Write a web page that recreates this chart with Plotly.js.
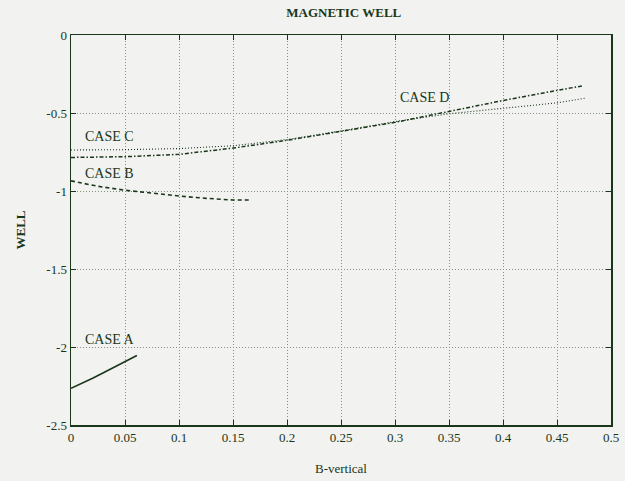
<!DOCTYPE html>
<html><head><meta charset="utf-8">
<script src="https://cdn.plot.ly/plotly-3.0.1.min.js"></script>
<style>html,body{margin:0;padding:0;background:#f2f2f0;}</style>
</head><body>
<div id="chart" style="width:625px;height:481px;"></div>
<script>
const caseA_x = [0, 0.01, 0.02, 0.03, 0.04, 0.05, 0.061];
const caseA_y = [-2.265, -2.235, -2.2, -2.165, -2.13, -2.095, -2.055];
const caseB_x = [0, 0.025, 0.05, 0.075, 0.1, 0.125, 0.15, 0.167];
const caseB_y = [-0.935, -0.97, -0.995, -1.015, -1.032, -1.047, -1.058, -1.058];
const caseC_x = [0, 0.05, 0.1, 0.15, 0.2, 0.25, 0.3, 0.35, 0.4, 0.45, 0.477];
const caseC_y = [-0.737, -0.735, -0.728, -0.71, -0.67, -0.615, -0.555, -0.505, -0.47, -0.435, -0.404];
const caseD_x = [0, 0.05, 0.1, 0.15, 0.2, 0.25, 0.3, 0.35, 0.4, 0.45, 0.473];
const caseD_y = [-0.785, -0.78, -0.765, -0.725, -0.675, -0.618, -0.56, -0.49, -0.42, -0.355, -0.327];
const labels = ["CASE A", "CASE B", "CASE C", "CASE D"];
const labelX = [0.036, 0.036, 0.036, 0.327];
const labelY = [-1.95, -0.885, -0.65, -0.4];

const ink = '#1a361a';
const traces = [
  {x: caseA_x, y: caseA_y, mode: 'lines', line: {color: ink, width: 1.6, dash: 'solid'}},
  {x: caseB_x, y: caseB_y, mode: 'lines', line: {color: ink, width: 1.6, dash: '4px,3px'}},
  {x: caseC_x, y: caseC_y, mode: 'lines', line: {color: ink, width: 1.1, dash: '1px,2px'}},
  {x: caseD_x, y: caseD_y, mode: 'lines', line: {color: ink, width: 1.5, dash: '4px,2px,1.5px,2px'}}
];
const font = {family: 'Liberation Serif, Times New Roman, serif', color: ink, size: 13};
const ticks = [0, 0.05, 0.1, 0.15, 0.2, 0.25, 0.3, 0.35, 0.4, 0.45, 0.5];
const tickText = ['0', '0.05', '0.1', '0.15', '0.2', '0.25', '0.3', '0.35', '0.4', '0.45', '0.5'];
const yticks = [0, -0.5, -1, -1.5, -2, -2.5];
const ytickText = ['0', '-0.5', '-1', '-1.5', '-2', '-2.5'];
const layout = {
  width: 625, height: 481,
  margin: {l: 71, r: 14, t: 35, b: 56},
  paper_bgcolor: '#f2f2f0', plot_bgcolor: '#f2f2f0',
  showlegend: false,
  font: font,
  title: {text: 'MAGNETIC WELL', x: 0.55, xanchor: 'center', y: 0.975, yanchor: 'middle', font: {family: font.family, color: ink, size: 13, weight: 'bold'}},
  xaxis: {
    range: [0, 0.5], tickvals: ticks, ticktext: tickText,
    showline: true, linecolor: ink, linewidth: 1.5, mirror: 'ticks',
    ticks: 'inside', ticklen: 5, tickcolor: ink,
    showgrid: true, gridcolor: '#7f927f', griddash: '1px,2px', gridwidth: 1,
    zeroline: false, tickfont: font,
    title: {text: 'B-vertical', font: font, standoff: 20}
  },
  yaxis: {
    range: [-2.5, 0], tickvals: yticks, ticktext: ytickText,
    showline: true, linecolor: ink, linewidth: 1.5, mirror: 'ticks',
    ticks: 'inside', ticklen: 5, tickcolor: ink,
    showgrid: true, gridcolor: '#7f927f', griddash: '1px,2px', gridwidth: 1,
    zeroline: false, tickfont: font,
    title: {text: 'WELL', font: {family: font.family, color: ink, size: 13, weight: 'bold'}, standoff: 18}
  },
  annotations: labels.map((t, i) => ({x: labelX[i], y: labelY[i], text: t, showarrow: false, font: {family: font.family, color: ink, size: 14}}))
};
Plotly.newPlot('chart', traces, layout, {displayModeBar: false, staticPlot: true});
</script>
</body></html>
